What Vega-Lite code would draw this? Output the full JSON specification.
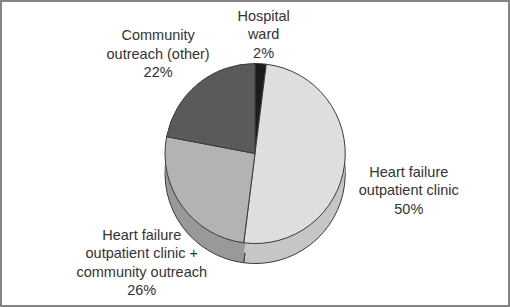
{
  "$schema": "https://vega.github.io/schema/vega-lite/v6.json",
  "width": 510,
  "height": 307,
  "autosize": {"type": "none"},
  "padding": 0,
  "background": "white",
  "config": {"view": {"stroke": null}},
  "data": {
    "values": [
      {"label": "Hospital ward", "pct": 2, "order": 1, "text": "Hospital\nward\n2%"},
      {"label": "Heart failure outpatient clinic", "pct": 50, "order": 2, "text": "Heart failure\noutpatient clinic\n50%"},
      {"label": "Heart failure outpatient clinic + community outreach", "pct": 26, "order": 3, "text": "Heart failure\noutpatient clinic +\ncommunity outreach\n26%"},
      {"label": "Community outreach (other)", "pct": 22, "order": 4, "text": "Community\noutreach (other)\n22%"}
    ]
  },
  "layer": [
    {
      "data": {"values": [{"frame": 1}]},
      "mark": {"type": "rect", "fill": null, "stroke": "#858585", "strokeWidth": 4},
      "encoding": {}
    },
    {
      "mark": {"type": "arc", "radius": 90, "yOffset": 20, "stroke": "#3a3a3a", "strokeWidth": 1},
      "encoding": {
        "theta": {"field": "pct", "type": "quantitative", "stack": true},
        "order": {"field": "order", "type": "quantitative"},
        "color": {
          "field": "label", "type": "nominal", "legend": null,
          "scale": {
            "domain": ["Hospital ward", "Heart failure outpatient clinic", "Heart failure outpatient clinic + community outreach", "Community outreach (other)"],
            "range": ["#141414", "#c6c6c6", "#999999", "#444444"]
          }
        }
      }
    },
    {
      "mark": {"type": "arc", "radius": 90, "yOffset": 10, "strokeWidth": 0},
      "encoding": {
        "theta": {"field": "pct", "type": "quantitative", "stack": true},
        "order": {"field": "order", "type": "quantitative"},
        "color": {
          "field": "label", "type": "nominal", "legend": null,
          "scale": {
            "domain": ["Hospital ward", "Heart failure outpatient clinic", "Heart failure outpatient clinic + community outreach", "Community outreach (other)"],
            "range": ["#141414", "#c6c6c6", "#999999", "#444444"]
          }
        }
      }
    },
    {
      "mark": {"type": "arc", "radius": 90, "stroke": "#3a3a3a", "strokeWidth": 1},
      "encoding": {
        "theta": {"field": "pct", "type": "quantitative", "stack": true},
        "order": {"field": "order", "type": "quantitative"},
        "fill": {
          "field": "label", "type": "nominal", "legend": null,
          "scale": {
            "domain": ["Hospital ward", "Heart failure outpatient clinic", "Heart failure outpatient clinic + community outreach", "Community outreach (other)"],
            "range": ["#1c1c1c", "#dedede", "#b3b3b3", "#5a5a5a"]
          }
        }
      }
    },
    {
      "mark": {"type": "text", "radius": 137, "font": "Liberation Sans", "fontSize": 14.5, "lineHeight": 18.5, "lineBreak": "\n", "color": "#333333", "align": "center", "baseline": "middle"},
      "encoding": {
        "theta": {"field": "pct", "type": "quantitative", "stack": true},
        "order": {"field": "order", "type": "quantitative"},
        "text": {"condition": {"test": "datum.label === 'Hospital ward'", "field": "text"}, "value": ""}
      }
    },
    {
      "mark": {"type": "text", "radius": 155, "font": "Liberation Sans", "fontSize": 14.5, "lineHeight": 18.5, "lineBreak": "\n", "color": "#333333", "align": "center", "baseline": "middle"},
      "encoding": {
        "theta": {"field": "pct", "type": "quantitative", "stack": true},
        "order": {"field": "order", "type": "quantitative"},
        "text": {"condition": {"test": "datum.label === 'Heart failure outpatient clinic'", "field": "text"}, "value": ""}
      }
    },
    {
      "mark": {"type": "text", "radius": 140, "font": "Liberation Sans", "fontSize": 14.5, "lineHeight": 18.5, "lineBreak": "\n", "color": "#333333", "align": "center", "baseline": "middle"},
      "encoding": {
        "theta": {"field": "pct", "type": "quantitative", "stack": true},
        "order": {"field": "order", "type": "quantitative"},
        "text": {"condition": {"test": "datum.label === 'Heart failure outpatient clinic + community outreach'", "field": "text"}, "value": ""}
      }
    },
    {
      "mark": {"type": "text", "radius": 152, "font": "Liberation Sans", "fontSize": 14.5, "lineHeight": 18.5, "lineBreak": "\n", "color": "#333333", "align": "center", "baseline": "middle"},
      "encoding": {
        "theta": {"field": "pct", "type": "quantitative", "stack": true},
        "order": {"field": "order", "type": "quantitative"},
        "text": {"condition": {"test": "datum.label === 'Community outreach (other)'", "field": "text"}, "value": ""}
      }
    }
  ],
  "resolve": {"scale": {"color": "independent", "fill": "independent"}}
}
